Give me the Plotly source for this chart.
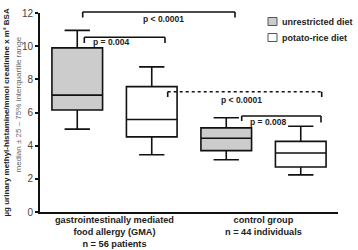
import plotly.graph_objects as go

groups = ["gastrointestinally mediated<br>food allergy (GMA)<br>n = 56 patients",
          "control group<br>n = 44 individuals"]
series_names = ["unrestricted diet", "potato-rice diet"]
unrestricted_q1 = [6.15, 3.70]
unrestricted_median = [7.05, 4.45]
unrestricted_q3 = [9.9, 5.07]
unrestricted_low = [5.0, 3.15]
unrestricted_high = [10.95, 5.68]
potato_q1 = [4.53, 2.71]
potato_median = [5.58, 3.56]
potato_q3 = [7.56, 4.26]
potato_low = [3.45, 2.24]
potato_high = [8.75, 5.17]
y_ticks = [0, 2, 4, 6, 8, 10, 12]

W, H = 358, 250
L, R, T, B = 40, 20, 13, 38
pw, ph = W - L - R, H - T - B

def px(x):
    return (x - L) / pw

def py(y):
    return (H - B - y) / ph

fig = go.Figure()
fills = ["#cccccc", "#ffffff"]
stats = [
    (unrestricted_q1, unrestricted_median, unrestricted_q3, unrestricted_low, unrestricted_high),
    (potato_q1, potato_median, potato_q3, potato_low, potato_high),
]
for name, fill, (q1, med, q3, lo, hi) in zip(series_names, fills, stats):
    fig.add_trace(go.Box(
        name=name, x=groups, q1=q1, median=med, q3=q3,
        lowerfence=lo, upperfence=hi,
        fillcolor=fill, line=dict(color="#111111", width=1.6),
        whiskerwidth=0.5, boxpoints=False, showlegend=False,
        hoverinfo="skip",
    ))

fig.update_layout(
    width=W, height=H, autosize=False,
    margin=dict(l=L, r=R, t=T, b=B, pad=0),
    paper_bgcolor="white", plot_bgcolor="white",
    boxmode="group", boxgap=0.0, boxgroupgap=0.32,
    font=dict(family="Liberation Sans, Arial, sans-serif", color="#222222"),
)
fig.update_yaxes(
    range=[0, 12], tickvals=y_ticks, ticks="outside", ticklen=3, tickwidth=1.5,
    tickcolor="#111111", showline=True, linewidth=2, linecolor="#111111",
    showgrid=False, zeroline=False, tickfont=dict(size=10, color="#444444"),
    automargin=False, ticklabelstandoff=0,
)
fig.update_xaxes(
    range=[-0.5, 1.5], showline=True, linewidth=2, linecolor="#111111",
    ticks="", showgrid=False, showticklabels=False, automargin=False,
)

# category labels (below the x axis)
for i, g in enumerate(groups):
    fig.add_annotation(xref="x", yref="paper", x=i, y=py(212.5), yanchor="top", xanchor="center",
                       text="<b>" + g.replace("<br>", "</b><br><b>") + "</b>",
                       showarrow=False, font=dict(size=9.2, color="#222222"))

# y-axis titles
fig.add_annotation(xref="paper", yref="paper", x=px(6.5), y=py(113), textangle=-90,
                   xanchor="center", yanchor="middle",
                   text="<b>µg urinary methyl-histamine/mmol creatinine x m² BSA</b>",
                   showarrow=False, font=dict(size=8, color="#222222"))
fig.add_annotation(xref="paper", yref="paper", x=px(17.5), y=py(105), textangle=-90,
                   xanchor="center", yanchor="middle",
                   text="median ± 25 – 75% interquartile range",
                   showarrow=False, font=dict(size=8, color="#666666"))

# significance brackets
line_style = dict(color="#111111", width=1.6)
def bracket(x0, x1, y, yl, yr, dash=None):
    fig.add_shape(type="line", xref="paper", yref="paper", x0=px(x0), x1=px(x1),
                  y0=py(y), y1=py(y),
                  line=dict(color="#111111", width=1.6 if dash is None else 1.4,
                            dash=dash or "solid"))
    fig.add_shape(type="line", xref="paper", yref="paper", x0=px(x0), x1=px(x0),
                  y0=py(y), y1=py(yl), line=line_style)
    fig.add_shape(type="line", xref="paper", yref="paper", x0=px(x1), x1=px(x1),
                  y0=py(y), y1=py(yr), line=line_style)

def ptext(x, y, text, anchor="center"):
    fig.add_annotation(xref="paper", yref="paper", x=px(x), y=py(y), text="<b>" + text + "</b>",
                       xanchor=anchor, yanchor="middle", showarrow=False,
                       font=dict(size=8.5, color="#222222"))

bracket(82.7, 235, 12, 17.5, 17.5)
ptext(163, 19.5, "p &lt; 0.0001")
bracket(84.3, 165, 37.3, 43, 43)
ptext(91, 42, "p = 0.004", "left")
bracket(167.7, 321.7, 91.7, 97, 97, dash="dot")
ptext(241.7, 99.5, "p &lt; 0.0001")
bracket(241.7, 321, 116, 121, 122.5)
ptext(247.5, 121.7, "p = 0.008", "left")

# legend
for i, (name, fill) in enumerate(zip(series_names, fills)):
    yc = 21.5 + 16 * i
    fig.add_shape(type="rect", xref="paper", yref="paper", x0=px(268), x1=px(277),
                  y0=py(yc - 4), y1=py(yc + 4), fillcolor=fill,
                  line=dict(color="#555555", width=1))
    fig.add_annotation(xref="paper", yref="paper", x=px(280), y=py(yc), text="<b>" + name + "</b>",
                       xanchor="left", yanchor="middle", showarrow=False,
                       font=dict(size=9, color="#222222"))

fig.write_html("out.html", config={"displayModeBar": False},
               post_script="document.body.style.margin='0';document.body.style.overflow='hidden';")
